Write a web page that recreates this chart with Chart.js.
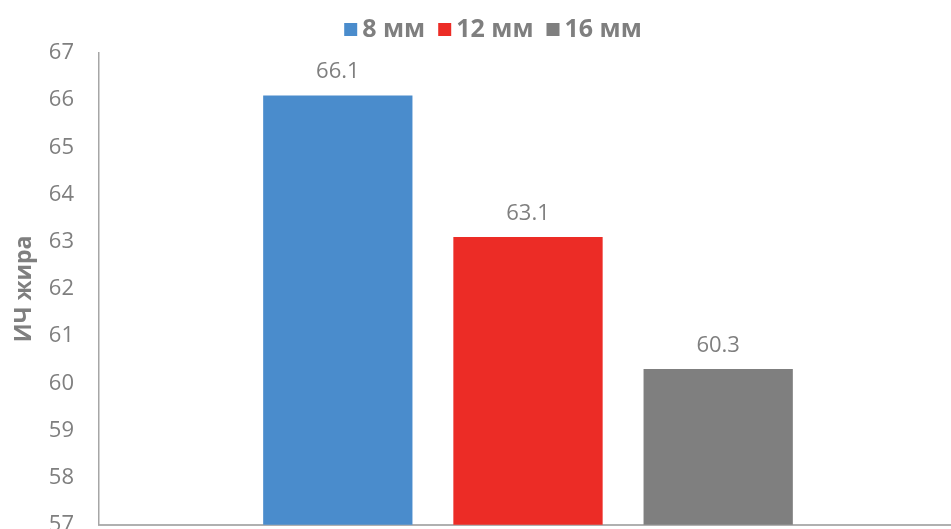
<!DOCTYPE html>
<html><head><meta charset="utf-8">
<script src="https://cdn.jsdelivr.net/npm/chart.js@4/dist/chart.umd.min.js"></script>
<style>
html,body{margin:0;padding:0;background:#fff;overflow:hidden;}
#wrap{position:relative;width:957px;height:563px;}
</style></head><body>
<div id="wrap"><canvas id="c"></canvas></div>
<script>
const categories = [''];
const seriesNames = ['8 мм', '12 мм', '16 мм'];
const values8 = [66.1];
const values12 = [63.1];
const values16 = [60.3];
const yTitle = 'ИЧ жира';
const yMin = 57, yMax = 67, yStep = 1;

const colors = ['#4a8ccc', '#ec2c26', '#7f7f7f'];
const font = "'Open Sans', 'Noto Sans', sans-serif";

const valueLabels = {
  id: 'valueLabels',
  afterDatasetsDraw(chart) {
    const ctx = chart.ctx;
    ctx.save();
    ctx.fillStyle = '#7f7f7f';
    ctx.font = "22px " + font;
    ctx.textAlign = 'center';
    ctx.textBaseline = 'alphabetic';
    chart.data.datasets.forEach((ds, i) => {
      const meta = chart.getDatasetMeta(i);
      meta.data.forEach((bar, j) => {
        ctx.fillText(ds.data[j].toFixed(1), bar.x, bar.y - 17);
      });
    });
    ctx.restore();
  }
};

// compact legend drawn on the canvas (small gap between swatch and text)
const topLegend = {
  id: 'topLegend',
  afterDraw(chart) {
    const ctx = chart.ctx;
    ctx.save();
    ctx.font = "bold 25px " + font;
    ctx.textBaseline = 'alphabetic';
    ctx.textAlign = 'left';
    const box = 13, gap = 5, itemGap = 13;
    const items = chart.data.datasets.map(ds => ({ text: ds.label, color: ds.backgroundColor, w: ctx.measureText(ds.label).width }));
    const total = items.reduce((s, it) => s + box + gap + it.w, 0) + itemGap * (items.length - 1);
    let x = 493 - total / 2;
    const baseline = 37;
    items.forEach(it => {
      ctx.fillStyle = it.color;
      ctx.fillRect(x, baseline - box - 1, box, box);
      x += box + gap;
      ctx.fillStyle = '#7f7f7f';
      ctx.fillText(it.text, x, baseline);
      x += it.w + itemGap;
    });
    ctx.restore();
  }
};

new Chart(document.getElementById('c'), {
  type: 'bar',
  data: {
    labels: categories,
    datasets: [
      { label: seriesNames[0], data: values8, backgroundColor: colors[0] },
      { label: seriesNames[1], data: values12, backgroundColor: colors[1] },
      { label: seriesNames[2], data: values16, backgroundColor: colors[2] }
    ]
  },
  options: {
    responsive: true,
    maintainAspectRatio: false,
    animation: false,
    layout: { padding: { left: 8, right: 0, top: 53, bottom: 0 } },
    datasets: { bar: { categoryPercentage: 0.665, barPercentage: 0.785 } },
    plugins: {
      legend: { display: false },
      tooltip: { enabled: false }
    },
    scales: {
      x: {
        grid: { display: false, drawTicks: false },
        border: { display: true, color: '#b0b0b0', width: 2 },
        ticks: { display: false }
      },
      y: {
        min: yMin, max: yMax,
        afterFit(scale) { scale.width = 91; },
        ticks: { stepSize: yStep, color: '#7f7f7f', padding: 25, font: { family: font, size: 22 } },
        grid: { display: false, drawTicks: false },
        border: { display: true, color: '#a6a6a6', width: 1.5 },
        title: { display: true, text: yTitle, color: '#7f7f7f', font: { family: font, size: 23, weight: 'bold' }, padding: { top: 3, bottom: 9 } }
      }
    }
  },
  plugins: [valueLabels, topLegend]
});
</script>
</body></html>
